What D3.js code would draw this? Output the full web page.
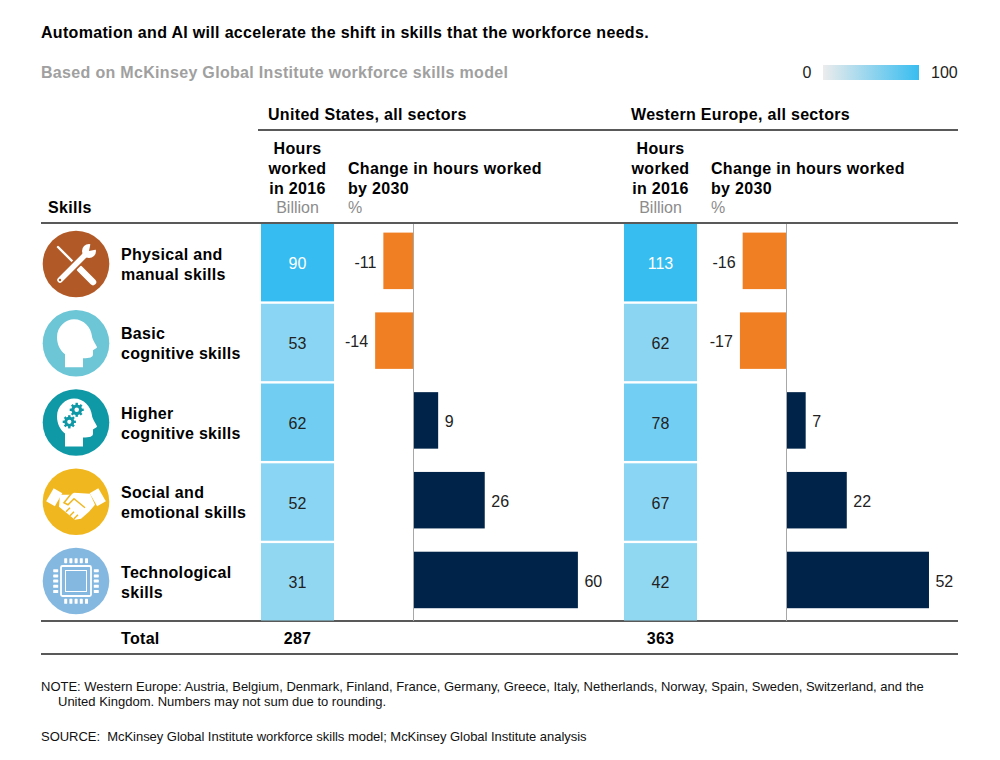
<!DOCTYPE html>
<html>
<head>
<meta charset="utf-8">
<script src="https://cdn.jsdelivr.net/npm/d3@7"></script>
<style>
  html, body { margin: 0; background: #fff; }
  text { font-family: "Liberation Sans", Arial, sans-serif; fill: #000; }
  .b { font-weight: bold; letter-spacing: 0.32px; font-size: 16px; }
  .n { font-size: 16px; }
  .g { font-size: 16px; fill: #8c8c8c; }
  .f { font-size: 13px; fill: #111; }
</style>
</head>
<body>
<svg id="chart" width="1000" height="760"></svg>
<script>
const skills = ["physical", "basic", "higher", "social", "tech"];
const skillLabels = [
  ["Physical and", "manual skills"],
  ["Basic", "cognitive skills"],
  ["Higher", "cognitive skills"],
  ["Social and", "emotional skills"],
  ["Technological", "skills"]
];
const iconColors = ["#b25a27", "#6cc6d6", "#0f98a6", "#f0b71f", "#84b8e0"];
const usHours = [90, 53, 62, 52, 31];
const usChange = [-11, -14, 9, 26, 60];
const euHours = [113, 62, 78, 67, 42];
const euChange = [-16, -17, 7, 22, 52];
const totals = [287, 363];
const regionNames = ["United States, all sectors", "Western Europe, all sectors"];
const hoursHeader = ["Hours", "worked", "in 2016"];
const changeHeader = ["Change in hours worked", "by 2030"];
const noteLines = [
  "NOTE: Western Europe: Austria, Belgium, Denmark, Finland, France, Germany, Greece, Italy, Netherlands, Norway, Spain, Sweden, Switzerland, and the",
  "United Kingdom. Numbers may not sum due to rounding."
];
const sourceLine = "SOURCE:\u00a0 McKinsey Global Institute workforce skills model; McKinsey Global Institute analysis";

const svg = d3.select("#chart");

const rowY = d3.scaleBand().domain(skills).range([224, 620.5]).paddingInner(0.03);
const iconY = d3.scalePoint().domain(skills).range([264, 581]);
const labelY = d3.scalePoint().domain(skills).range([259.5, 578]);
const barInset = 8.6;
const barHeight = 56.5;
// shade follows the skill's share of the region's total hours
const heat = d3.scaleLinear()
  .domain([0, 0.11, 0.185, 0.215, 0.31])
  .range(["#ececec", "#90d7f2", "#8ad5f3", "#72cef2", "#38bdf0"]);
const pxPerUnit = 2.74;
function changeScale(zeroX) {
  return d3.scaleLinear().domain([0, 100]).range([zeroX, zeroX + 100 * pxPerUnit]);
}

function addText(x, y, str, cls, anchor) {
  return svg.append("text").attr("x", x).attr("y", y).attr("class", cls)
    .attr("text-anchor", anchor || "start").text(str);
}
function rule(x1, x2, y, w) {
  svg.append("line").attr("x1", x1).attr("x2", x2).attr("y1", y).attr("y2", y)
    .attr("stroke", "#222").attr("stroke-width", w || 1.5);
}

// title + legend
addText(41, 38, "Automation and AI will accelerate the shift in skills that the workforce needs.", "b");
addText(41, 78, "Based on McKinsey Global Institute workforce skills model", "b").style("fill", "#a0a0a0");
const grad = svg.append("defs").append("linearGradient").attr("id", "legendGrad");
grad.append("stop").attr("offset", "0%").attr("stop-color", "#ececec");
grad.append("stop").attr("offset", "100%").attr("stop-color", "#38bdf0");
svg.append("rect").attr("x", 823).attr("y", 65).attr("width", 96).attr("height", 15).attr("fill", "url(#legendGrad)");
addText(807, 78, "0", "n", "middle").style("fill", "#222");
addText(931, 78, "100", "n").style("fill", "#222");

// rules
rule(258, 958, 130);
rule(41, 958, 223);
rule(41, 958, 621);
rule(41, 958, 654);

addText(48, 213, "Skills", "b");
addText(121, 644, "Total", "b");

// region panels
function panel(idx, cellX, zeroX, hours, change) {
  addText(cellX + 7, 120, regionNames[idx], "b");
  hoursHeader.forEach((s, i) => addText(cellX + 36.5, 153.5 + i * 20, s, "b", "middle"));
  addText(cellX + 36.5, 213, "Billion", "g", "middle");
  changeHeader.forEach((s, i) => addText(cellX + 87, 173.5 + i * 20, s, "b"));
  addText(cellX + 87, 213, "%", "g");

  const x = changeScale(zeroX);
  const g = svg.append("g");
  g.selectAll("rect.cell").data(hours).join("rect").attr("class", "cell")
    .attr("x", cellX).attr("width", 73)
    .attr("y", (d, i) => rowY(skills[i])).attr("height", rowY.bandwidth())
    .attr("fill", d => heat(d / totals[idx]));
  g.selectAll("text.val").data(hours).join("text").attr("class", "val n")
    .attr("x", cellX + 36.5).attr("text-anchor", "middle")
    .attr("y", (d, i) => rowY(skills[i]) + rowY.bandwidth() / 2 + 6.5)
    .style("fill", d => d / totals[idx] > 0.3 ? "#fff" : "#222")
    .text(d => d);

  g.selectAll("rect.bar").data(change).join("rect").attr("class", "bar")
    .attr("x", d => Math.min(x(d), x(0))).attr("width", d => Math.abs(x(d) - x(0)))
    .attr("y", (d, i) => rowY(skills[i]) + barInset)
    .attr("height", barHeight)
    .attr("fill", d => d < 0 ? "#f07f24" : "#00234a");
  g.selectAll("text.chg").data(change).join("text").attr("class", "chg n")
    .attr("x", d => d < 0 ? x(d) - 7 : x(d) + 6.5)
    .attr("text-anchor", d => d < 0 ? "end" : "start")
    .attr("y", (d, i) => rowY(skills[i]) + barInset + barHeight / 2 + 6.8)
    .style("fill", "#222")
    .text(d => d);
  g.append("line").attr("x1", x(0)).attr("x2", x(0)).attr("y1", 224).attr("y2", 621)
    .attr("stroke", "#a8a8a8").attr("stroke-width", 1);

  addText(cellX + 36.5, 644, totals[idx], "b", "middle");
}
panel(0, 261, 413.5, usHours, usChange);
panel(1, 624, 786.5, euHours, euChange);

// row labels
skills.forEach((s, i) => {
  skillLabels[i].forEach((line, j) => addText(121, labelY(s) + j * 20, line, "b"));
});

// icons
const head = "M-11,24 L-11,11 C-16,7 -19,1 -19,-6 C-19,-17 -10,-24 -2,-24 C8,-24 15,-16 16,-7 C16,-4 21,3 21,4 C21,5 18,6 17,7 L17,11 C17,14 14,15 7,15 L7,24 Z";

function gear(g, cx, cy, r, color) {
  g.append("circle").attr("cx", cx).attr("cy", cy).attr("r", r).attr("fill", color);
  d3.range(8).forEach(k => {
    g.append("rect").attr("x", -1.2).attr("y", -r - 1.6).attr("width", 2.4).attr("height", 3)
      .attr("fill", color).attr("transform", `translate(${cx},${cy}) rotate(${k * 45})`);
  });
  g.append("circle").attr("cx", cx).attr("cy", cy).attr("r", r * 0.42).attr("fill", "#fff");
}

const drawIcon = {
  physical(g, c) {
    g.append("line").attr("x1", -18).attr("y1", -17).attr("x2", 3).attr("y2", 4)
      .attr("stroke", "#fff").attr("stroke-width", 2.4).attr("stroke-linecap", "round");
    g.append("line").attr("x1", 4).attr("y1", 5).attr("x2", 17).attr("y2", 18)
      .attr("stroke", "#fff").attr("stroke-width", 6.5).attr("stroke-linecap", "round");
    g.append("line").attr("x1", -16).attr("y1", 16).attr("x2", 11).attr("y2", -11)
      .attr("stroke", c).attr("stroke-width", 9);
    g.append("line").attr("x1", -16).attr("y1", 16).attr("x2", 11).attr("y2", -11)
      .attr("stroke", "#fff").attr("stroke-width", 5.5).attr("stroke-linecap", "round");
    g.append("circle").attr("cx", 13).attr("cy", -13).attr("r", 7).attr("fill", "#fff");
    g.append("path").attr("d", "M13,-13 L15,-23 L23,-15 Z").attr("fill", c);
    g.append("circle").attr("cx", -16).attr("cy", 16).attr("r", 1.2).attr("fill", c);
  },
  basic(g) {
    g.append("path").attr("d", head).attr("fill", "#fff");
  },
  higher(g, c) {
    g.append("path").attr("d", head).attr("fill", "#fff");
    gear(g, 0.7, -12.7, 5.4, c);
    gear(g, -6.7, -0.7, 5, c);
  },
  social(g, c) {
    g.append("rect").attr("x", -27).attr("y", -12).attr("width", 10).attr("height", 15)
      .attr("fill", "#fff").attr("transform", "rotate(30 -22 -4)");
    g.append("rect").attr("x", 17).attr("y", -12).attr("width", 10).attr("height", 15)
      .attr("fill", "#fff").attr("transform", "rotate(-30 22 -4)");
    g.append("path").attr("d", "M-16,-7 L-6,-7 L-2,-9 L14,-8 L19,3 L13,10 L5,17 L-1,18 L-17,5 Z").attr("fill", "#fff");
    g.append("path").attr("d", "M-4,-9 L-12,1 L-8,3 L-2,-3 L9,6")
      .attr("fill", "none").attr("stroke", c).attr("stroke-width", 1.5);
    g.append("path").attr("d", "M-10,10 L-6,6 M-6,14 L-2,10 M-2,17 L2,13")
      .attr("fill", "none").attr("stroke", c).attr("stroke-width", 1.5);
  },
  tech(g) {
    g.append("rect").attr("x", -15).attr("y", -15).attr("width", 30).attr("height", 30)
      .attr("rx", 1.5).attr("fill", "none").attr("stroke", "#fff").attr("stroke-width", 1.8);
    g.append("rect").attr("x", -10.5).attr("y", -10.5).attr("width", 21).attr("height", 21)
      .attr("fill", "none").attr("stroke", "#fff").attr("stroke-width", 1);
    d3.range(5).forEach(k => {
      const p = -11.8 + k * 5.2;
      [[p, -22.8, 3, 5], [p, 17.8, 3, 5], [-22.8, p, 5, 3], [17.8, p, 5, 3]].forEach(r => {
        g.append("rect").attr("x", r[0]).attr("y", r[1]).attr("width", r[2]).attr("height", r[3])
          .attr("rx", 0.6).attr("fill", "#fff");
      });
    });
  }
};

skills.forEach((s, i) => {
  const g = svg.append("g").attr("transform", `translate(76,${iconY(s)})`);
  g.append("circle").attr("r", 33.3).attr("fill", iconColors[i]);
  drawIcon[s](g, iconColors[i]);
});

// footnotes
addText(41, 690.7, noteLines[0], "f");
addText(58, 706, noteLines[1], "f");
addText(41, 741, sourceLine, "f").style("letter-spacing", "-0.03px");
</script>
</body>
</html>
